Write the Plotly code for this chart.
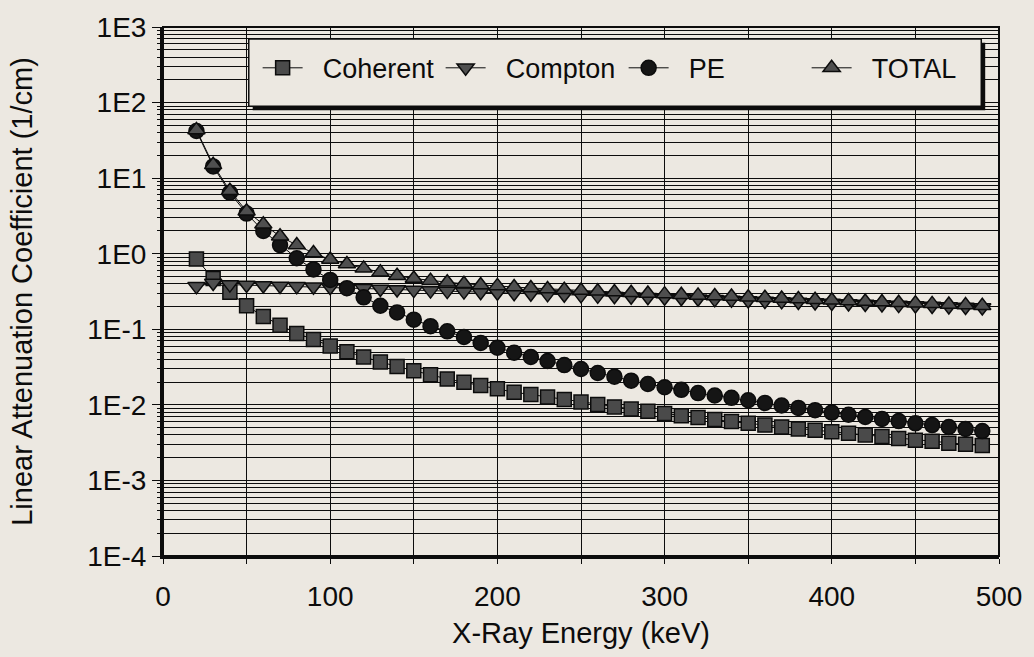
import plotly.graph_objects as go

# X-ray energy grid (keV)
energy_kev = [20, 30, 40, 50, 60, 70, 80, 90, 100, 110, 120, 130, 140, 150, 160, 170,
              180, 190, 200, 210, 220, 230, 240, 250, 260, 270, 280, 290, 300, 310, 320, 330,
              340, 350, 360, 370, 380, 390, 400, 410, 420, 430, 440, 450, 460, 470, 480, 490]

# Linear attenuation coefficients (1/cm)
coherent = [0.85, 0.47, 0.31, 0.205, 0.148, 0.113, 0.088, 0.0735, 0.060, 0.0506, 0.0431, 0.037,
            0.0322, 0.0283, 0.0251, 0.022, 0.0199, 0.018, 0.0163, 0.0147, 0.0137, 0.0127, 0.0118, 0.0109,
            0.0101, 0.0094, 0.0088, 0.0082, 0.0077, 0.0072, 0.0068, 0.0064, 0.0060, 0.0057, 0.0054, 0.0051,
            0.0048, 0.0046, 0.0044, 0.0042, 0.0040, 0.0038, 0.0036, 0.0034, 0.0033, 0.0031, 0.0030, 0.0029]

compton = [0.37, 0.41, 0.39, 0.385, 0.38, 0.375, 0.37, 0.365, 0.36, 0.355, 0.348, 0.342,
           0.336, 0.33, 0.325, 0.32, 0.315, 0.31, 0.305, 0.30, 0.295, 0.29, 0.286, 0.281,
           0.277, 0.273, 0.269, 0.265, 0.261, 0.257, 0.253, 0.249, 0.245, 0.241, 0.237, 0.234,
           0.23, 0.226, 0.223, 0.219, 0.216, 0.213, 0.209, 0.206, 0.203, 0.20, 0.197, 0.194]

photoelectric = [42, 14.3, 6.4, 3.4, 2.0, 1.3, 0.87, 0.62, 0.45, 0.35, 0.265, 0.205,
                 0.167, 0.134, 0.11, 0.094, 0.079, 0.066, 0.057, 0.049, 0.043, 0.038, 0.0336, 0.0298,
                 0.0264, 0.0236, 0.0209, 0.0189, 0.0171, 0.0158, 0.0143, 0.0133, 0.0124, 0.0115, 0.0106, 0.0098,
                 0.0091, 0.0085, 0.0079, 0.0074, 0.0069, 0.0065, 0.0061, 0.0057, 0.0054, 0.0051, 0.0048, 0.0045]

total = [43.5, 15.0, 6.8, 3.65, 2.45, 1.7, 1.3, 1.02, 0.84, 0.73, 0.64, 0.57,
         0.51, 0.47, 0.44, 0.42, 0.40, 0.385, 0.375, 0.362, 0.352, 0.342, 0.333, 0.325,
         0.318, 0.311, 0.304, 0.298, 0.292, 0.287, 0.281, 0.276, 0.271, 0.266, 0.261, 0.256,
         0.251, 0.246, 0.242, 0.237, 0.233, 0.229, 0.225, 0.221, 0.217, 0.213, 0.209, 0.205]

series_names = ["Coherent", "Compton", "PE", "TOTAL"]

# Axis ticks
y_tickvals = [1e-4, 1e-3, 1e-2, 1e-1, 1e0, 1e1, 1e2, 1e3]
y_ticktext = ["1E-4", "1E-3", "1E-2", "1E-1", "1E0", "1E1", "1E2", "1E3"]
x_tickvals = [0, 100, 200, 300, 400, 500]

BG = "#ECE8E1"
INK = "#0c0c0c"
FONT = "Liberation Sans, Arial, sans-serif"
LEGEND_PAD = "\u00a0\u00a0"  # gap between legend symbol and label

# symbol, size, fill, hatched (speckled fill)
styles = [
    dict(symbol="square", size=14, color="#4a4a4a", hatch=True),
    dict(symbol="triangle-down", size=15, color="#4f4f4f", hatch=True),
    dict(symbol="circle", size=15, color="#151515", hatch=False),
    dict(symbol="triangle-up", size=15, color="#4f4f4f", hatch=True),
]

fig = go.Figure()
for name, values, st in zip(series_names, [coherent, compton, photoelectric, total], styles):
    fig.add_trace(go.Scatter(
        x=energy_kev, y=values, name=LEGEND_PAD + name, mode="lines+markers",
        line=dict(color=INK, width=1),
        marker=dict(symbol=st["symbol"], size=st["size"], color=st["color"],
                    line=dict(color=INK, width=1.5)),
    ))
    if st["hatch"]:
        # light speckle texture on top of the dark fill
        fig.add_trace(go.Scatter(
            x=energy_kev, y=values, mode="markers", showlegend=False, hoverinfo="skip",
            marker=dict(symbol="x-thin-open", size=6, color="rgba(0,0,0,0)",
                        line=dict(color="#c8c8c8", width=1)),
        ))

minor_y = [m * 10.0 ** e for e in range(-4, 3) for m in range(2, 10)]

fig.update_layout(
    width=1034, height=657,
    paper_bgcolor=BG, plot_bgcolor=BG,
    margin=dict(l=163, r=23, t=23, b=100),
    font=dict(family=FONT, size=27, color=INK),
    showlegend=True,
    legend=dict(
        orientation="h", x=0.1132, xanchor="left", y=0.922, yanchor="middle",
        bgcolor="rgba(0,0,0,0)", borderwidth=0,
        entrywidth=128, entrywidthmode="pixels", itemwidth=40,
        font=dict(family=FONT, size=27, color=INK),
    ),
    xaxis=dict(
        range=[0, 500], tickmode="array", tickvals=x_tickvals,
        showgrid=False, zeroline=False,
        showline=True, linecolor=INK, linewidth=3, mirror=False,
        ticks="outside", ticklen=5, tickcolor=INK, ticklabelstandoff=8,
        ticklabeloverflow="allow",
        minor=dict(dtick=50, showgrid=True, gridcolor=INK, gridwidth=1.2,
                   ticks="outside", ticklen=5, tickcolor=INK),
        title=dict(text="X-Ray Energy (keV)", font=dict(size=29), standoff=13),
        tickfont=dict(size=28),
    ),
    yaxis=dict(
        type="log", range=[-4, 3], tickmode="array", tickvals=y_tickvals, ticktext=y_ticktext,
        showgrid=True, gridcolor=INK, gridwidth=1.2, zeroline=False,
        showline=True, linecolor=INK, linewidth=3,
        ticks="outside", ticklen=8, tickcolor=INK,
        minor=dict(tickmode="array", tickvals=minor_y, showgrid=True, gridcolor=INK,
                   gridwidth=1.2, ticks="outside", ticklen=3, tickcolor=INK),
        title=dict(text="Linear Attenuation Coefficient (1/cm)", font=dict(size=29), standoff=47),
        tickfont=dict(size=28),
    ),
    shapes=[
        # plot frame (top/right)
        dict(type="rect", xref="paper", yref="paper", x0=0, x1=1, y0=0, y1=1,
             line=dict(color=INK, width=2), layer="above"),
        # legend drop shadow
        dict(type="rect", xref="paper", yref="paper", x0=0.1073, x1=0.9835, y0=0.8427, y1=0.970,
             fillcolor=INK, line=dict(width=0), layer="above"),
        # legend box
        dict(type="rect", xref="paper", yref="paper", x0=0.1026, x1=0.9788, y0=0.8502, y1=0.9775,
             fillcolor=BG, line=dict(color=INK, width=1.5), layer="above"),
    ],
)

fig.write_html("out.html")
